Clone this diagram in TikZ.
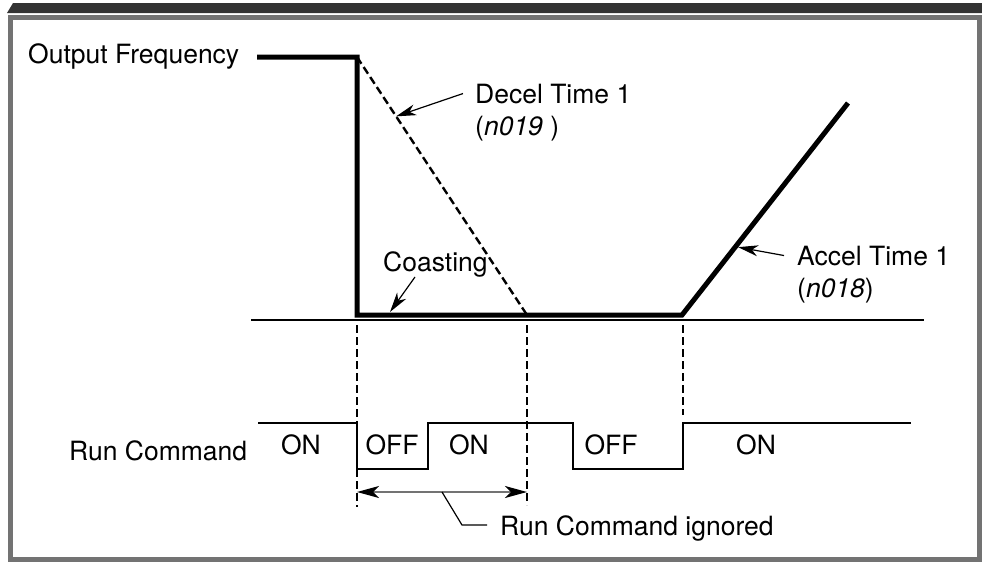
\documentclass[tikz,border=0pt]{standalone}
\usepackage{fontspec}
\setmainfont{TeX Gyre Heros}
\usetikzlibrary{positioning,arrows.meta,calc}

\begin{document}
\begin{tikzpicture}[
    x=1pt, y=-1pt,
    lbl/.style={font=\fontsize{26.5}{32}\selectfont, inner sep=0pt, anchor=base west},
    onoff/.style={lbl, anchor=base},
    freq/.style={line width=5pt, line join=miter},
    axisline/.style={line width=2pt},
    level/.style={line width=2.5pt},
    guide/.style={line width=2.4pt, dash pattern=on 8pt off 4pt},
    leader/.style={-{Stealth[length=20pt, width=11pt, inset=6pt]}, line width=1.2pt},
    span/.style={{Stealth[length=22pt, width=12pt, inset=6pt, color=black]}-{Stealth[length=22pt, width=12pt, inset=6pt, color=black]}, line width=1.5pt, black!55}
]
\useasboundingbox (0,0) rectangle (982,562);

% Frame
\fill[black!80] (7,13) -- (13,3) -- (982,3) -- (982,13) -- cycle;
\draw[line width=5pt, black!55] (10.5,17.5) rectangle (979.5,559.5);

% Output frequency
\coordinate (f0) at (257,57);
\coordinate (f1) at (357,57);
\coordinate (f2) at (357,315);
\coordinate (f3) at (682,315);
\coordinate (f4) at (848,103);
\coordinate (d1) at (527,315);

\draw[axisline] (251,320) -- (924,320);
\draw[guide] (f1) -- (d1);
\draw[freq] (f0) -- (f1) -- (f2) -- (f3) -- (f4);

% Dashed time marks
\draw[guide] (357,325) -- (357,507);
\draw[guide] (527,325) -- (527,505);
\draw[guide] (683,325) -- (683,415);

% Run command
\draw[level] (258,423) -- (357,423) -- (357,469) -- (428,469) -- (428,423)
    -- (573,423) -- (573,469) -- (683,469) -- (683,423) -- (911,423);

\node[onoff] (on1) at (301,454) {ON};
\node[onoff] (off1) at (392,454) {OFF};
\node[onoff] (on2) at (469,454) {ON};
\node[onoff] (off2) at (611,454) {OFF};
\node[onoff] (on3) at (756,454) {ON};

% Labels
\node[lbl] (outfreq) at (28,63.5) {Output Frequency};
\node[lbl] (runcmd) at (69,460) {Run Command};
\node[lbl] (decel) at (475,103) {Decel Time 1};
\node[lbl] (decelpar) at ([yshift=-32pt]decel.base west) {(\textit{n019} )};
\node[lbl] (coast) at (383,271) {Coasting};
\node[lbl] (accel) at (797,265) {Accel Time 1};
\node[lbl] (accelpar) at ([yshift=-32pt]accel.base west) {(\textit{n018})};
\node[lbl] (ignored) at (500,535) {Run Command ignored};

% Leaders
\coordinate (decelpt) at ($(f1)!0.23!(d1)$);
\coordinate (coastpt) at (390,312);
\coordinate (accelpt) at ($(f3)!0.32!(f4)+(3,0)$);
\coordinate (ignpt) at (442,492);

\draw[leader] ([xshift=-12pt]decel.west) -- (decelpt);
\draw[leader] ([xshift=32pt]coast.south west) -- (coastpt);
\draw[leader] ([xshift=-13pt]accel.west) -- (accelpt);
\draw[span] (357,492) -- (527,492);
\draw[line width=1.2pt] (ignpt) -- (462,525) -- ([xshift=-13pt,yshift=3pt]ignored.west);

\end{tikzpicture}
\end{document}
